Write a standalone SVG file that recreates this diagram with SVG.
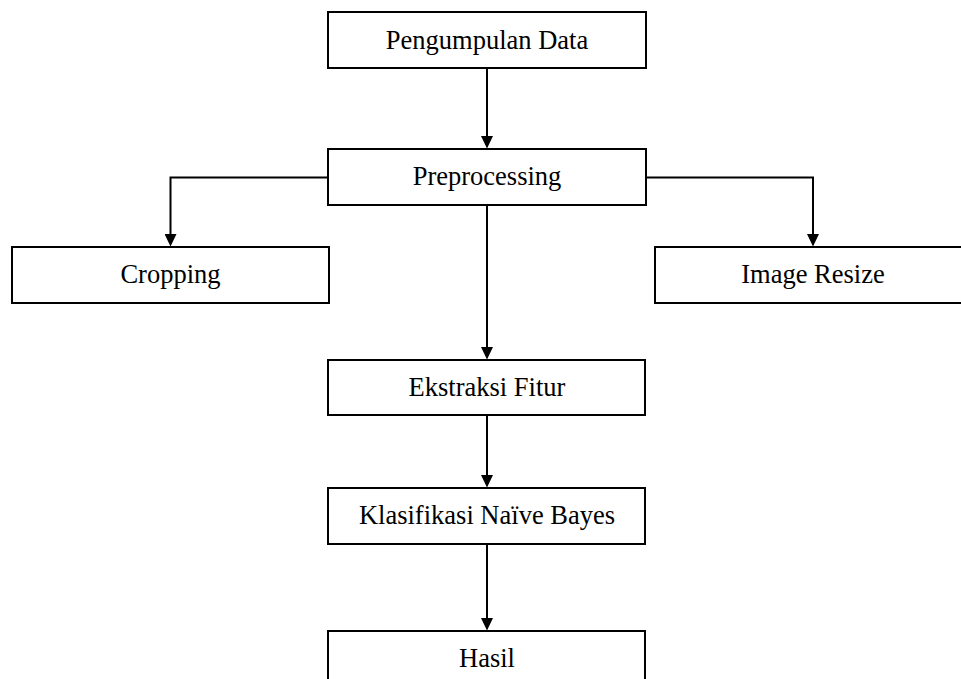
<svg xmlns="http://www.w3.org/2000/svg" width="961" height="679" viewBox="0 0 961 679">
<style>
.box{fill:#fff;stroke:#000;stroke-width:2}
.lbl{font-family:"Liberation Serif","Times New Roman",serif;font-size:26.5px;fill:#000;text-anchor:middle}
.con{fill:none;stroke:#000;stroke-width:2;marker-end:url(#ah)}
</style>
<defs>
<marker id="ah" markerUnits="userSpaceOnUse" markerWidth="13" markerHeight="12" refX="0" refY="6" orient="auto" viewBox="0 0 13 12">
<path d="M0,0 L12.5,6 L0,12 Z" fill="#000"/>
</marker>
</defs>
<rect width="961" height="679" fill="#fff"/>
<g id="connectors">
<path class="con" d="M487,68 V136"/>
<path class="con" d="M328,177.5 H170.5 V234"/>
<path class="con" d="M646,177.5 H813 V234"/>
<path class="con" d="M487,205 V347"/>
<path class="con" d="M487,415 V475"/>
<path class="con" d="M487,544 V618"/>
</g>
<g id="n1"><rect class="box" x="328" y="12" width="318" height="56"/><text class="lbl" x="487" y="48.5">Pengumpulan Data</text></g>
<g id="n2"><rect class="box" x="328" y="149" width="318" height="56"/><text class="lbl" x="487" y="185">Preprocessing</text></g>
<g id="n3"><rect class="box" x="12" y="247" width="317" height="56"/><text class="lbl" x="170.5" y="283">Cropping</text></g>
<g id="n4"><rect class="box" x="655" y="247" width="317" height="56"/><text class="lbl" x="813" y="283">Image Resize</text></g>
<g id="n5"><rect class="box" x="328" y="360" width="317" height="55"/><text class="lbl" x="487" y="396">Ekstraksi Fitur</text></g>
<g id="n6"><rect class="box" x="328" y="488" width="317" height="56"/><text class="lbl" x="487" y="524">Klasifikasi Naïve Bayes</text></g>
<g id="n7"><rect class="box" x="328" y="631" width="317" height="56"/><text class="lbl" x="487" y="667">Hasil</text></g>
</svg>
